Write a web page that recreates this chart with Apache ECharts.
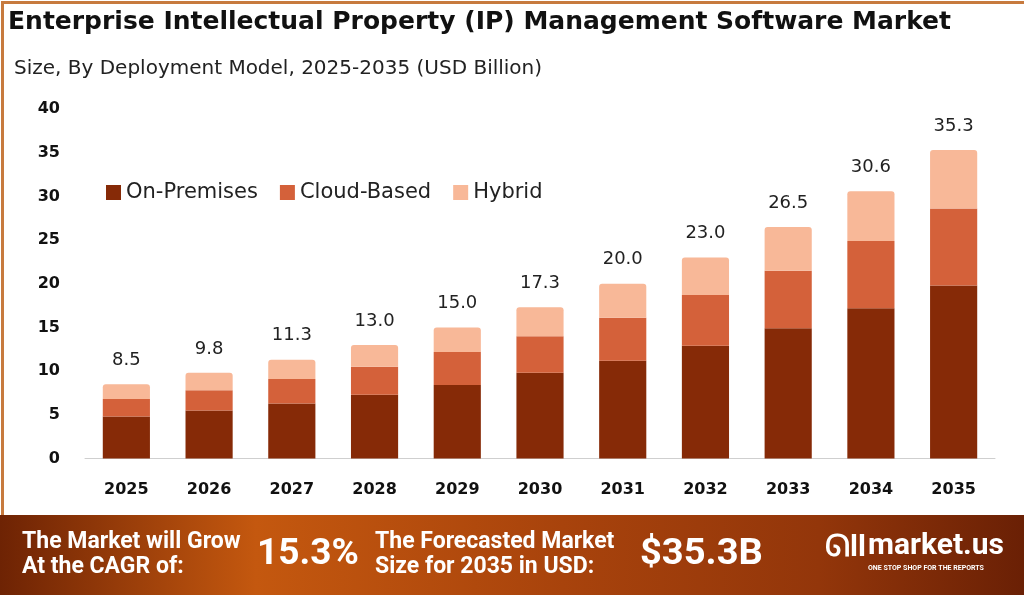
<!DOCTYPE html>
<html>
<head>
<meta charset="utf-8">
<script src="https://cdn.jsdelivr.net/npm/echarts@6/dist/echarts.min.js"></script>
<style>
html,body{margin:0;padding:0;background:#fff;}
#chart{width:1024px;height:595px;}
</style>
</head>
<body>
<div id="chart"></div>
<script>
const years = ['2025','2026','2027','2028','2029','2030','2031','2032','2033','2034','2035'];
const onPremises = [4.8, 5.5, 6.3, 7.3, 8.4, 9.8, 11.2, 12.9, 14.9, 17.2, 19.8];
const cloudBased = [2.0, 2.3, 2.8, 3.2, 3.8, 4.2, 4.9, 5.8, 6.6, 7.7, 8.8];
const hybrid     = [1.7, 2.0, 2.2, 2.5, 2.8, 3.3, 3.9, 4.3, 5.0, 5.7, 6.7];
const totals     = [8.5, 9.8, 11.3, 13.0, 15.0, 17.3, 20.0, 23.0, 26.5, 30.6, 35.3];
const yTicks = [0, 5, 10, 15, 20, 25, 30, 35, 40];
const seriesNames = ['On-Premises', 'Cloud-Based', 'Hybrid'];
const colors = ['#862a07', '#d4613a', '#f8b898'];

const chart = echarts.init(document.getElementById('chart'));
const font = 'DejaVu Sans';
chart.setOption({
  animation: false,
  backgroundColor: '#ffffff',
  color: colors,
  title: [{
    text: 'Enterprise Intellectual Property (IP) Management Software Market',
    left: 3, top: 5,
    textStyle: {fontFamily: font, fontWeight: 'bold', fontSize: 25, color: '#111'}
  }, {
    text: 'Size, By Deployment Model, 2025-2035 (USD Billion)',
    left: 9, top: 54,
    textStyle: {fontFamily: font, fontWeight: 'normal', fontSize: 20, color: '#222'}
  }],
  legend: {
    left: 101, top: 177,
    itemWidth: 15, itemHeight: 15, itemGap: 22,
    icon: 'rect',
    textStyle: {fontFamily: font, fontSize: 21, color: '#222'},
    data: seriesNames
  },
  grid: {left: 85, right: 29, top: 109, bottom: 136.5, containLabel: false},
  xAxis: {
    type: 'category', data: years,
    axisLine: {lineStyle: {color: '#cfcfcf'}},
    axisTick: {show: false},
    axisLabel: {fontFamily: font, fontWeight: 'bold', fontSize: 16, color: '#111', margin: 23}
  },
  yAxis: {
    type: 'value', min: yTicks[0], max: yTicks[yTicks.length-1], interval: 5,
    axisLine: {show: false}, axisTick: {show: false},
    splitLine: {show: false},
    axisLabel: {fontFamily: font, fontWeight: 'bold', fontSize: 16, color: '#111', margin: 25}
  },
  series: [
    {name: seriesNames[0], type: 'bar', stack: 'total', data: onPremises, barCategoryGap: '43%'},
    {name: seriesNames[1], type: 'bar', stack: 'total', data: cloudBased},
    {name: seriesNames[2], type: 'bar', stack: 'total', data: hybrid,
     itemStyle: {borderRadius: [3,3,0,0]},
     label: {show: true, position: 'top', distance: 15,
       formatter: p => totals[p.dataIndex].toFixed(1),
       fontFamily: font, fontSize: 18, color: '#222'}}
  ],
  graphic: [
    {type: 'rect', left: 0, top: 0, shape: {width: 1024, height: 595},
     style: {fill: 'none', stroke: '#c77a3e', lineWidth: 3}, z: 100},
    {type: 'rect', left: 0, top: 515, shape: {width: 1024, height: 80},
     style: {fill: new echarts.graphic.LinearGradient(0,0,1,0,[
       {offset: 0, color: '#6e2304'}, {offset: 0.25, color: '#c4580f'},
       {offset: 0.55, color: '#a8430c'}, {offset: 0.8, color: '#93360a'},
       {offset: 1, color: '#6a2005'}])}, z: 101},
    {type: 'text', left: 22, top: 530, z: 102,
     style: {text: 'The Market will Grow\nAt the CAGR of:', fill: '#fff',
       font: 'bold 23px Roboto', lineHeight: 25}},
    {type: 'text', left: 257, top: 536, z: 102,
     style: {text: '15.3%', fill: '#fff', font: 'bold 37px Roboto'}},
    {type: 'text', left: 375, top: 530, z: 102,
     style: {text: 'The Forecasted Market\nSize for 2035 in USD:', fill: '#fff',
       font: 'bold 23px Roboto', lineHeight: 25}},
    {type: 'text', left: 640, top: 536, z: 102, scaleX: 1.03,
     style: {text: '$35.3B', fill: '#fff', font: 'bold 37px Roboto'}},
    {type: 'text', left: 825, top: 533, z: 102,
     style: {text: 'ᘏll', fill: '#fff', font: 'bold 30px Roboto'}},
    {type: 'text', left: 868, top: 531, z: 102,
     style: {text: 'market.us', fill: '#fff', font: 'bold 30px Roboto'}},
    {type: 'text', left: 868, top: 565, z: 102,
     style: {text: 'ONE STOP SHOP FOR THE REPORTS', fill: '#fff', font: 'bold 7px Roboto'}}
  ]
});
</script>
</body>
</html>
